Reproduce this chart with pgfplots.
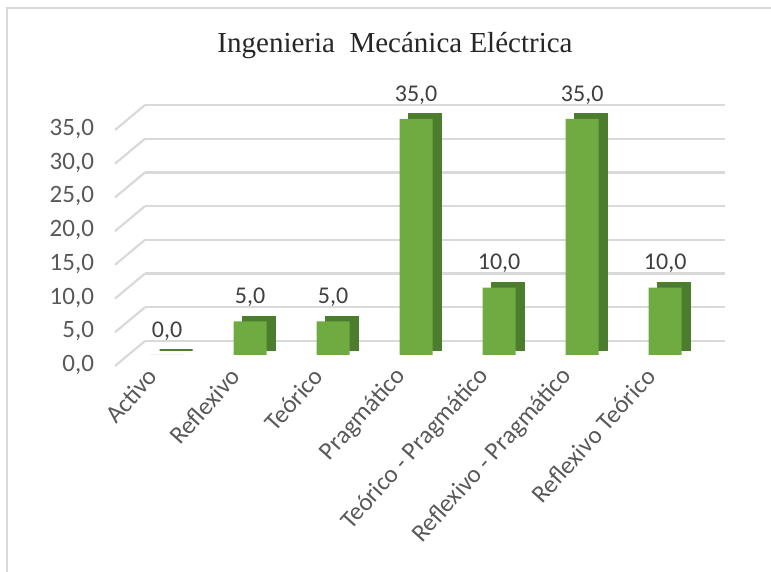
\documentclass[border=0pt]{standalone}
\usepackage{fontspec}
\setmainfont{Carlito}
\newfontfamily\titlefont{Liberation Serif}
\usepackage{pgfplots}
\pgfplotsset{compat=1.18}
\definecolor{barfront}{HTML}{6FAB40}
\definecolor{barside}{HTML}{4C7D2C}
\definecolor{gridgray}{HTML}{D9D9D9}
\definecolor{labelgray}{HTML}{595959}
\begin{document}
\begin{tikzpicture}
\path[use as bounding box] (0,0) rectangle (385.5pt,286pt);
\draw[gridgray, line width=0.75pt] (3.5pt,0) -- (3.5pt,282pt) -- (385.5pt,282pt);
\node[font=\titlefont\fontsize{14.5}{17}\selectfont, text=black!85] at (197.5pt,263pt) {Ingenieria\ \ Mecánica Eléctrica};
\begin{axis}[
  at={(72.5pt,108.5pt)}, anchor=south west,
  scale only axis, width=290pt, height=118pt,
  xmin=-0.265, xmax=6.72, ymin=0, ymax=35,
  ytick={0,5,...,35}, xtick={0,...,6},
  xticklabels={Activo, Reflexivo, Teórico, Pragmático, Teórico - Pragmático, Reflexivo - Pragmático, Reflexivo Teórico},
  axis line style={draw=none}, major tick length=0pt,
  ymajorgrids, major grid style={gridgray, line width=1.1pt, yshift=7pt},
  /pgf/number format/.cd, use comma, fixed, fixed zerofill, precision=1, assume math mode=true,
  /pgfplots/.cd,
  yticklabel style={font=\fontsize{12.5}{14}\selectfont, text=labelgray, anchor=east, xshift=-22pt, yshift=-5pt},
  xticklabel style={font=\fontsize{12.5}{14}\selectfont, text=labelgray, xshift=-5pt, yshift=-6pt, rotate=48, anchor=east},
  ybar, bar width=16.5pt,
  clip=false,
]
\pgfplotsinvokeforeach{0,5,10,15,20,25,30,35}{
  \draw[gridgray, line width=1.1pt] ([yshift=7pt]axis cs:-0.265,#1) -- ++(-15pt,-12.5pt);
}
% dark side / top, offset behind the front face
\addplot[fill=barside, draw=barside, line width=0.6pt, bar shift=4.5pt, yshift=2.5pt]
  coordinates {(0,0) (1,5) (2,5) (3,35) (4,10) (5,35) (6,10)};
% front face with value labels
\addplot[fill=barfront, draw=none, bar shift=0pt,
  nodes near coords,
  nodes near coords style={font=\fontsize{12}{14}\selectfont, text=black!75, anchor=center, yshift=12pt}]
  coordinates {(0,0) (1,5) (2,5) (3,35) (4,10) (5,35) (6,10)};
\end{axis}
\end{tikzpicture}
\end{document}
